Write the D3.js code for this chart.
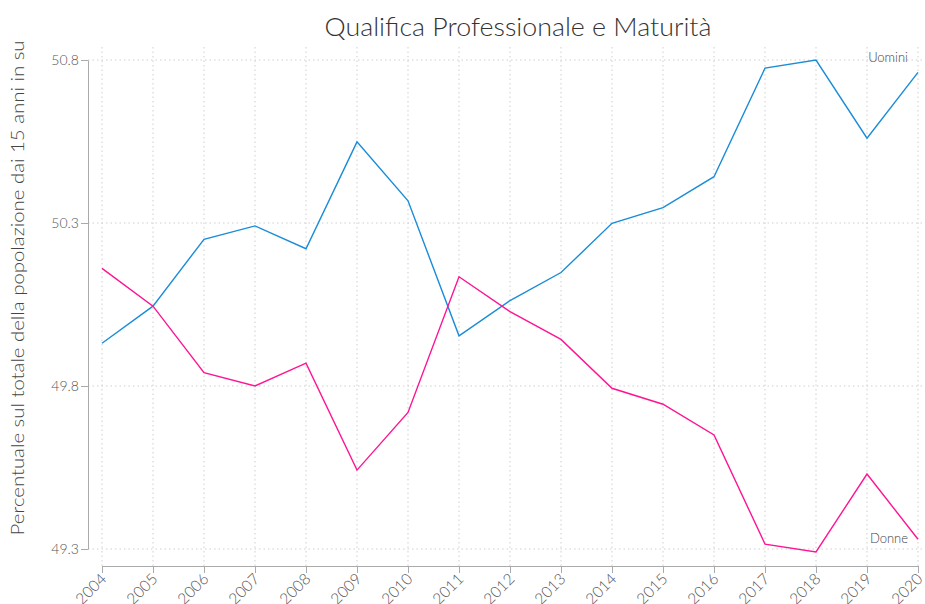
<!DOCTYPE html>
<html><head><meta charset="utf-8">
<script src="https://cdn.jsdelivr.net/npm/d3@7"></script>
<style>body{margin:0;background:#fff}svg{display:block}text{font-family:Lato,"Open Sans",sans-serif;}</style>
</head><body><svg id="c" width="925" height="604"></svg>
<script>
const years = [2004,2005,2006,2007,2008,2009,2010,2011,2012,2013,2014,2015,2016,2017,2018,2019,2020];
const uomini = [49.931,50.045,50.250,50.291,50.221,50.549,50.368,49.954,50.062,50.148,50.299,50.347,50.442,50.775,50.800,50.560,50.762];
const donne  = [50.161,50.045,49.841,49.800,49.870,49.542,49.719,50.135,50.028,49.943,49.793,49.744,49.650,49.315,49.291,49.530,49.330];
const yTicks = [49.3,49.8,50.3,50.8];
const seriesNames = ["Uomini","Donne"];
const colors = ["#1a8cd8","#ff1493"];

const svg = d3.select("#c");
const x = d3.scaleLinear().domain([2004,2020]).range([102,918]);
const y = d3.scaleLinear().domain([49.3,50.8]).range([549,60]);

// grid
const g = svg.append("g");
g.selectAll(".hg").data(yTicks).join("line")
  .attr("x1",88).attr("x2",925).attr("y1",d=>y(d)).attr("y2",d=>y(d))
  .attr("stroke","#cfcfcf").attr("stroke-dasharray","1.5,3");
g.selectAll(".vg").data(years).join("line")
  .attr("x1",d=>x(d)).attr("x2",d=>x(d)).attr("y1",47).attr("y2",566)
  .attr("stroke","#cfcfcf").attr("stroke-dasharray","1.5,3");

// y axis
const ya = svg.append("g").attr("transform","translate(88,0)")
  .call(d3.axisLeft(y).tickValues(yTicks).tickFormat(d3.format(".1f")).tickSize(7).tickSizeOuter(0));
ya.select(".domain").attr("stroke","#aaa");
ya.selectAll(".tick line").attr("stroke","#aaa");
ya.selectAll(".tick text").attr("fill","#555").attr("font-size",14).attr("font-weight",300).attr("x",-9);

// x axis
const xa = svg.append("g").attr("transform","translate(0,566)")
  .call(d3.axisBottom(x).tickValues(years).tickFormat(d3.format("d")).tickSize(7).tickSizeOuter(0));
xa.select(".domain").attr("stroke","#aaa");
xa.selectAll(".tick line").attr("stroke","#aaa");
xa.selectAll(".tick text").attr("fill","#555").attr("font-size",15.5).attr("font-weight",300)
  .attr("text-anchor","end").attr("dy",0).attr("y",0)
  .attr("transform","translate(5,14) rotate(-45)");

// lines
const line = d3.line().x((d,i)=>x(years[i])).y(d=>y(d));
[uomini,donne].forEach((s,k)=>{
  svg.append("path").datum(s).attr("d",line).attr("fill","none")
    .attr("stroke",colors[k]).attr("stroke-width",1.4);
});

// labels
svg.append("text").attr("x",x(2020)-10).attr("y",y(uomini[16])-10).attr("text-anchor","end")
  .attr("font-size",13).attr("font-weight",300).attr("fill","#444").text(seriesNames[0]);
svg.append("text").attr("x",x(2020)-10).attr("y",y(donne[16])+4).attr("text-anchor","end")
  .attr("font-size",13).attr("font-weight",300).attr("fill","#444").text(seriesNames[1]);

// title
svg.append("text").attr("x",518).attr("y",36).attr("text-anchor","middle")
  .attr("font-size",26).attr("font-weight",300).attr("fill","#333")
  .attr("textLength",387).attr("lengthAdjust","spacingAndGlyphs")
  .text("Qualifica Professionale e Maturità");

// y label
svg.append("text").attr("transform","translate(24,288) rotate(-90)").attr("text-anchor","middle")
  .attr("font-size",17).attr("font-weight",300).attr("fill","#444")
  .attr("textLength",495).attr("lengthAdjust","spacingAndGlyphs")
  .text("Percentuale sul totale della popolazione dai 15 anni in su");
</script></body></html>
